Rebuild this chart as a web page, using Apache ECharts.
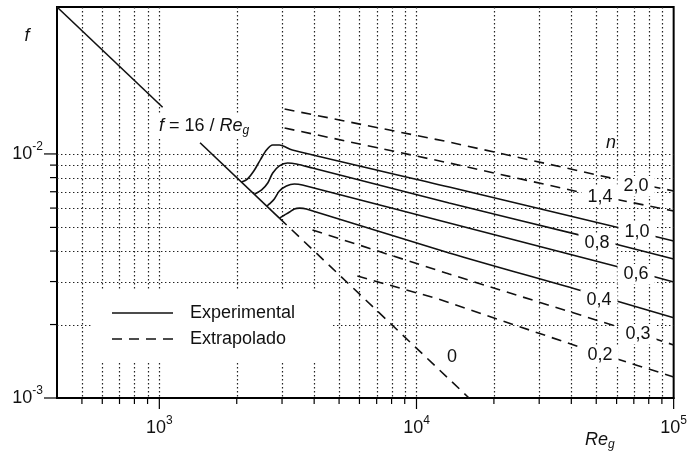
<!DOCTYPE html>
<html>
<head>
<meta charset="utf-8">
<script src="https://cdn.jsdelivr.net/npm/echarts@6/dist/echarts.min.js"></script>
<style>
  html, body { margin: 0; padding: 0; background: #fff; }
  #chart { width: 690px; height: 452px; }
</style>
</head>
<body>
<div id="chart"></div>
<script>
// Fanning friction factor f against the generalized Reynolds number Re_g
// for power-law fluids with flow index n (log-log axes).

// Laminar law f = 16 / Re_g (solid part, split around its label) and its n = 0 extension
const laminarLow  = [[400, 0.04], [1030, 0.01553]];
const laminarHigh = [[1440, 0.01111], [2930, 0.00546]];
const nZero       = [[2930, 0.00546], [16000, 0.001]];

// Measured turbulent curves
const n10 = [[2090, 0.00767], [2200, 0.00789], [2330, 0.00851], [2480, 0.00953], [2610, 0.01038],
             [2760, 0.01088], [2930, 0.01088], [3290, 0.01038], [13400, 0.00732], [59600, 0.00502],
             [100000, 0.0044]];
const n08 = [[2350, 0.00685], [2500, 0.00712], [2640, 0.0076], [2760, 0.00835], [2930, 0.00893],
             [3150, 0.00918], [3410, 0.0091], [3940, 0.00876], [13400, 0.00629], [42800, 0.00466],
             [100000, 0.00371]];
const n06 = [[2625, 0.00612], [2680, 0.00624], [2800, 0.00654], [2930, 0.00705], [3120, 0.00739],
             [3350, 0.00753], [3600, 0.00746], [13400, 0.00521], [61200, 0.00344], [100000, 0.00299]];
const n04 = [[2930, 0.00546], [3070, 0.00562], [3210, 0.00578], [3350, 0.00595], [3510, 0.006],
             [3730, 0.00595], [13400, 0.00393], [42800, 0.00277], [100000, 0.00213]];

// Extrapolated curves
const n20 = [[3070, 0.01528], [13400, 0.01119], [59600, 0.00789], [100000, 0.00705]];
const n14 = [[3070, 0.01277], [13400, 0.00918], [42800, 0.00699], [100000, 0.00584]];
const n03 = [[3940, 0.00488], [13400, 0.00322], [59600, 0.00197], [100000, 0.00165]];
const n02 = [[5890, 0.00316], [12250, 0.00254], [42800, 0.00162], [100000, 0.00122]];

// Grid lines and axis ticks
const xGrid = [500, 600, 700, 800, 900, 1000, 2000, 3000, 4000, 5000, 6000, 7000, 8000, 9000,
               10000, 20000, 30000, 40000, 50000, 60000, 70000, 80000, 90000];
const yGrid = [0.002, 0.003, 0.004, 0.005, 0.006, 0.007, 0.008, 0.009, 0.01];
const xMajorTicks = [1000, 10000, 100000];
const xMinorTicks = [500, 600, 700, 800, 900, 2000, 3000, 4000, 5000, 6000, 7000, 8000, 9000,
                     20000, 30000, 40000, 50000, 60000, 70000, 80000, 90000];
const yMajorTicks = [0.001, 0.01];
const yMinorTicks = [0.002, 0.003, 0.004, 0.005, 0.006, 0.007, 0.008, 0.009];

// Curve captions and key entries
const nCaptions = ['2,0', '1,4', '1,0', '0,8', '0,6', '0,4', '0,3', '0,2', '0'];
const legendNames = ['Experimental', 'Extrapolado'];

const FONT = '"Liberation Sans", Arial, Helvetica, sans-serif';
const INK = '#111';
const DASH = [10, 7];

function isPow10(v) {
  const l = Math.log10(v);
  return Math.abs(l - Math.round(l)) < 1e-6;
}
function powLabel(v) {
  return isPow10(v) ? '{b|10}{s|' + Math.round(Math.log10(v)) + '}' : '';
}
const powRich = {
  b: { fontSize: 18, fontFamily: FONT, color: INK, lineHeight: 26 },
  s: { fontSize: 12, fontFamily: FONT, color: INK, lineHeight: 14, verticalAlign: 'top' }
};

function curve(name, data, dashed, smooth) {
  return {
    name: name,
    type: 'line',
    data: data,
    smooth: smooth ? 0.3 : false,
    symbol: 'none',
    z: 3,
    silent: true,
    lineStyle: { color: INK, width: 1.6, type: dashed ? DASH : 'solid' },
    emphasis: { disabled: true }
  };
}

const chart = echarts.init(document.getElementById('chart'), null, { renderer: 'canvas' });

chart.setOption({
  animation: false,
  backgroundColor: '#fff',
  grid: { left: 57, right: 15, top: 7, bottom: 54, show: true, borderColor: '#000', borderWidth: 2 },
  xAxis: {
    type: 'log', logBase: 10, min: 400, max: 100000,
    axisLine: { lineStyle: { color: '#000', width: 2 } },
    axisTick: { show: false },
    splitLine: { show: false },
    axisLabel: { margin: 17, formatter: powLabel, rich: powRich }
  },
  yAxis: {
    type: 'log', logBase: 10, min: 0.001, max: 0.04,
    axisLine: { lineStyle: { color: '#000', width: 2 } },
    axisTick: { show: false },
    splitLine: { show: false },
    axisLabel: { margin: 14, formatter: powLabel, rich: powRich }
  },
  series: [
    curve('Experimental', laminarLow, false, false),
    curve('Experimental', laminarHigh, false, false),
    curve('Extrapolado', nZero, true, false),
    curve('Extrapolado', n20, true, false),
    curve('Extrapolado', n14, true, false),
    curve('Experimental', n10, false, true),
    curve('Experimental', n08, false, true),
    curve('Experimental', n06, false, true),
    curve('Experimental', n04, false, true),
    curve('Extrapolado', n03, true, false),
    curve('Extrapolado', n02, true, false)
  ]
});

// Grid lines, ticks and annotations, positioned through the axis scales
const px = v => chart.convertToPixel({ xAxisIndex: 0 }, v);
const py = v => chart.convertToPixel({ yAxisIndex: 0 }, v);
const xLeft = px(400), xRight = px(100000);
const yBottom = py(0.001), yTop = py(0.04);
const els = [];

function seg(x1, y1, x2, y2, style, z) {
  els.push({ type: 'line', silent: true, z: z,
             shape: { x1: x1, y1: y1, x2: x2, y2: y2 }, style: style });
}
const gridStyle = { stroke: '#222', lineWidth: 1.2, lineDash: [1.4, 2.6] };
xGrid.forEach(v => { const x = Math.round(px(v)) + 0.5; seg(x, yTop, x, yBottom, gridStyle, 1); });
yGrid.forEach(v => { const y = Math.round(py(v)) + 0.5; seg(xLeft, y, xRight, y, gridStyle, 1); });

const tickStyle = { stroke: '#000', lineWidth: 1.2 };
xMinorTicks.forEach(v => { const x = px(v); seg(x, yBottom, x, yBottom + 6, tickStyle, 5); });
xMajorTicks.forEach(v => { const x = px(v); seg(x, yBottom, x, yBottom + 11, tickStyle, 5); });
yMinorTicks.forEach(v => { const y = py(v); seg(xLeft - 7, y, xLeft, y, tickStyle, 5); });
yMajorTicks.forEach(v => { const y = py(v); seg(xLeft - 13, y, xLeft, y, tickStyle, 5); });

function text(x, y, str, opts) {
  els.push({
    type: 'text', x: x, y: y, z: 10, silent: true,
    style: Object.assign({
      text: str, fontSize: 18, fontFamily: FONT, fill: INK,
      align: 'center', verticalAlign: 'middle'
    }, opts || {})
  });
}

// Key with a blank backdrop
els.push({ type: 'rect', silent: true, z: 6,
           shape: { x: 93, y: 291, width: 240, height: 71 }, style: { fill: '#fff' } });
seg(112, 313, 173, 313, { stroke: INK, lineWidth: 1.6 }, 7);
seg(112, 339, 173, 339, { stroke: INK, lineWidth: 1.6, lineDash: DASH }, 7);
text(190, 313, legendNames[0], { align: 'left' });
text(190, 339, legendNames[1], { align: 'left' });

// Flow-index captions along the right-hand ends of the curves
const captionSpots = [[636, 186], [600, 197], [637, 232], [597, 243], [636, 274],
                      [599, 300], [638, 334], [600, 355], [452, 357]];
nCaptions.forEach((c, i) => {
  text(captionSpots[i][0], captionSpots[i][1], c, { backgroundColor: '#fff', padding: [1, 6] });
});
text(611, 143, 'n', { fontStyle: 'italic' });

const subRich = {
  i: { fontSize: 18, fontFamily: FONT, fontStyle: 'italic', color: INK, lineHeight: 22 },
  g: { fontSize: 12, fontFamily: FONT, fontStyle: 'italic', color: INK, lineHeight: 12, verticalAlign: 'bottom' }
};

// Laminar law caption
text(156, 126, '{i|f} = 16 / {i|Re}{g|g}', {
  align: 'left', backgroundColor: '#fff', padding: [2, 3], rich: subRich
});

// Axis names
text(27, 36, 'f', { fontStyle: 'italic' });
text(585, 440, '{i|Re}{g|g}', { align: 'left', rich: subRich });

chart.setOption({ graphic: { elements: els } });
</script>
</body>
</html>
